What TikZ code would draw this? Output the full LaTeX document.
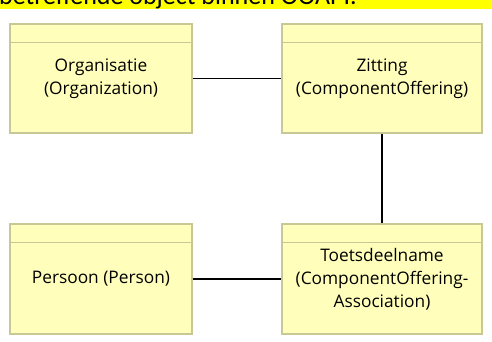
\documentclass[tikz,border=0pt]{standalone}
\usepackage{fontspec}
\setmainfont{Open Sans}
\newfontfamily\titlefont{Carlito}
\begin{document}
\begin{tikzpicture}[x=1pt,y=-1pt,
  cls/.style={draw=boxline, fill=boxfill, line width=1.2pt, minimum width=182pt, minimum height=109pt,
    inner sep=0pt, align=center, font=\fontsize{17.3}{23}\selectfont, text=black},
  clsw/.style={cls, minimum width=200pt},
  hdr/.style={draw=boxline, line width=1.2pt},
  conn/.style={draw=black, line width=1.3pt}]
\definecolor{boxfill}{RGB}{255,255,187}
\definecolor{boxline}{RGB}{200,200,150}
\definecolor{hl}{RGB}{255,255,0}
\useasboundingbox (0,0) rectangle (492,342);
\fill[white] (0,0) rectangle (492,342);
\begin{scope}
\clip (0,0) rectangle (492,342);
\fill[hl] (0,0) rectangle (492,8.7);
\node[anchor=base west, inner sep=0pt, font=\titlefont\fontsize{26}{30}\selectfont] (title) at (-1,5) {betreffende object binnen OOAPI.};
\end{scope}
\node[cls] (org) at (101,78.5) {Organisatie\\(Organization)};
\node[clsw] (zit) at (382,78.5) {Zitting\\(ComponentOffering)};
\node[cls, minimum height=110pt] (per) at (101,279) {Persoon (Person)};
\node[clsw, minimum height=110pt] (toe) at (382,279) {Toetsdeelname\\(ComponentOffering-\\Association)};
\foreach \n in {org,zit,per,toe}{
  \draw[hdr] ([yshift=-19pt]\n.north west) -- ([yshift=-19pt]\n.north east);
}
\draw[conn] (org.east) -- (zit.west);
\draw[conn] (zit.south) -- (toe.north);
\draw[conn] (per.east) -- (toe.west);
\end{tikzpicture}
\end{document}
